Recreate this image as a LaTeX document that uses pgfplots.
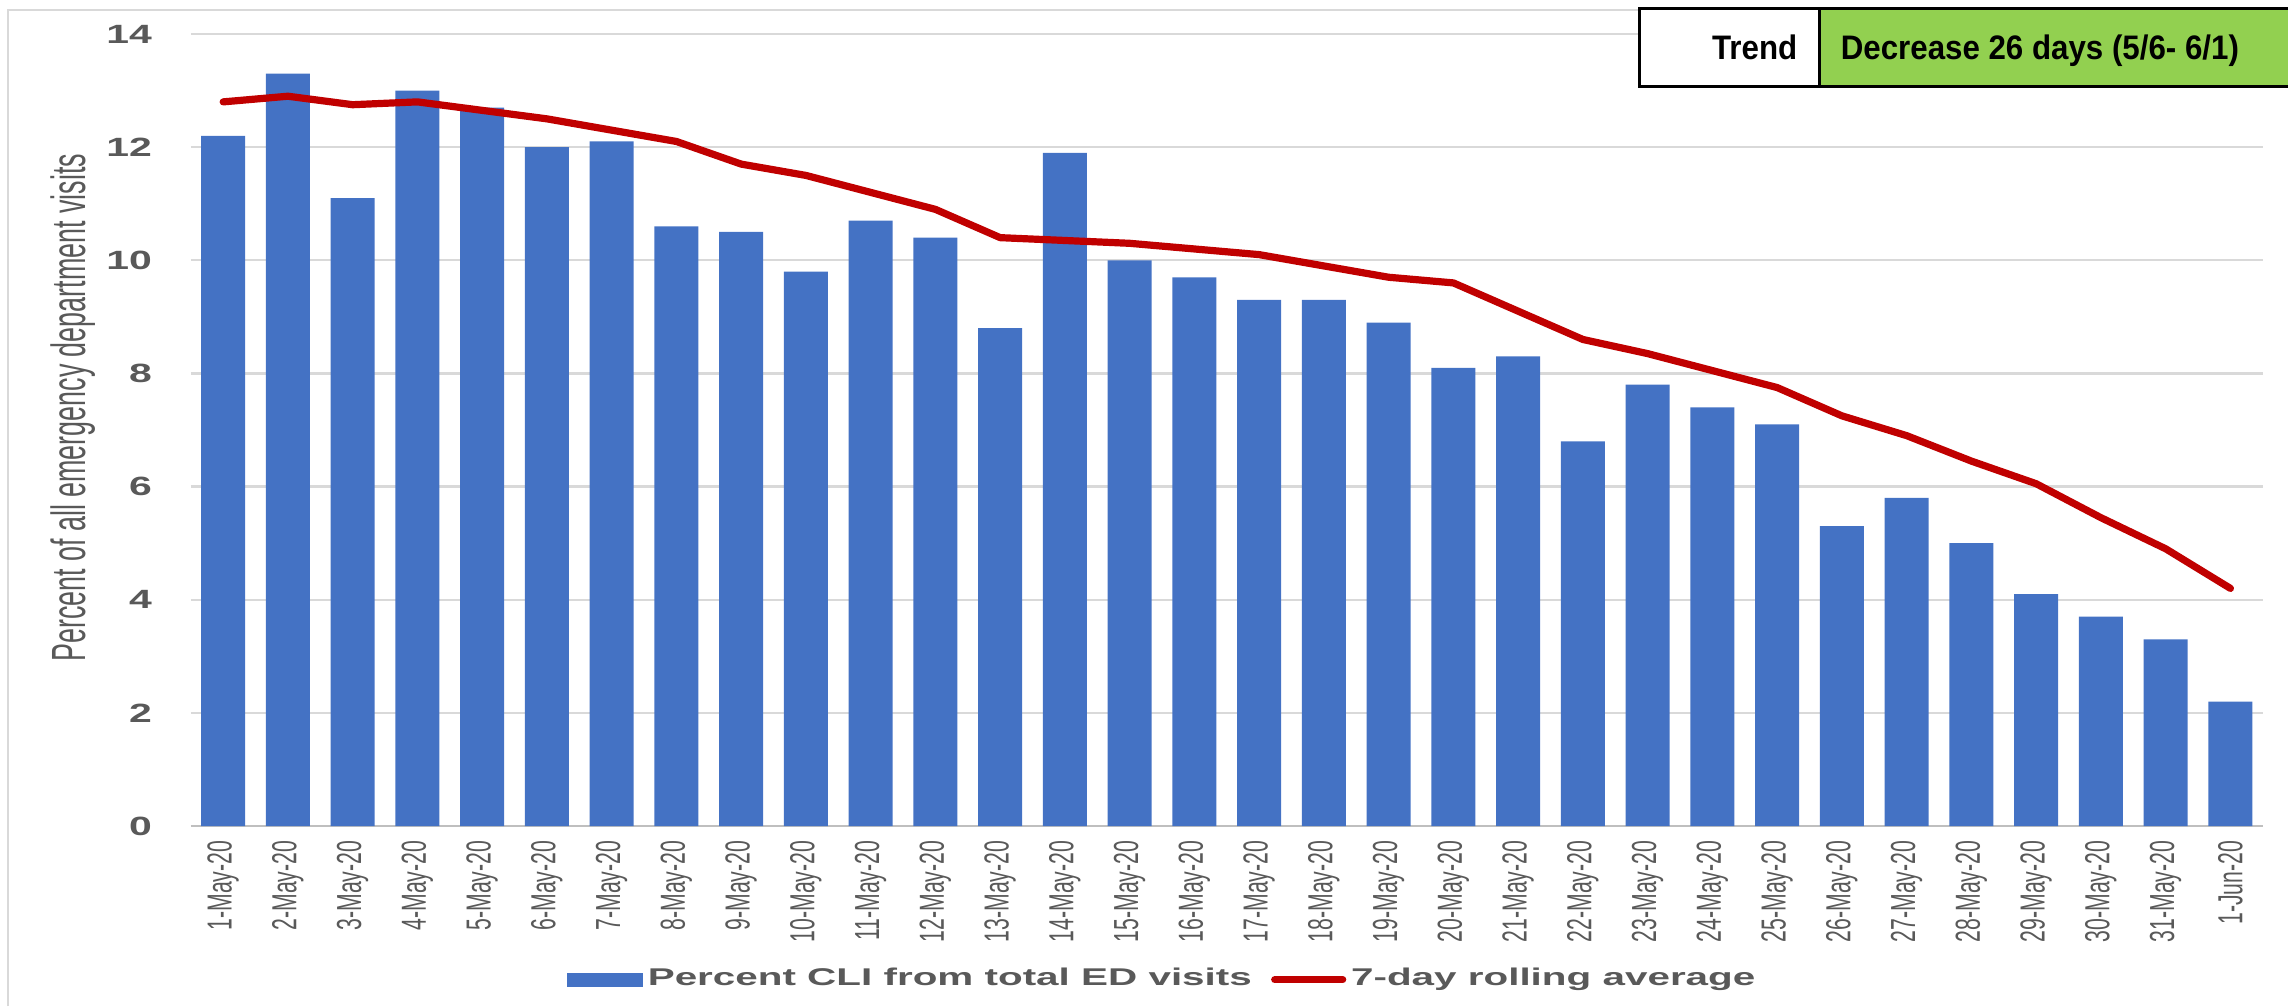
\documentclass[border=0pt]{standalone}
\usepackage{fontspec}
\usepackage{pgfplots}
\pgfplotsset{compat=1.18}
\setmainfont{Liberation Sans}
\newfontfamily\wideb[FakeStretch=1.55]{Liberation Sans}
\newfontfamily\legfont[FakeStretch=1.67]{Liberation Sans}
\newfontfamily\narrowfont[FakeStretch=0.61]{Liberation Sans}
\newfontfamily\ylabfont[FakeStretch=0.56]{Liberation Sans}
\newfontfamily\trendfont[FakeStretch=0.92]{Liberation Sans}
\definecolor{barblue}{HTML}{4472C4}
\definecolor{linered}{HTML}{C00000}
\definecolor{gridgray}{HTML}{D9D9D9}
\definecolor{axisgray}{HTML}{BFBFBF}
\definecolor{labelgray}{HTML}{595959}
\definecolor{trendgreen}{HTML}{92D050}
\pgfplotstableread{
x y
0 12.2
1 13.3
2 11.1
3 13.0
4 12.7
5 12.0
6 12.1
7 10.6
8 10.5
9 9.8
10 10.7
11 10.4
12 8.8
13 11.9
14 10.0
15 9.7
16 9.3
17 9.3
18 8.9
19 8.1
20 8.3
21 6.8
22 7.8
23 7.4
24 7.1
25 5.3
26 5.8
27 5.0
28 4.1
29 3.7
30 3.3
31 2.2
}\bars
\pgfplotstableread{
x y
0 12.8
1 12.9
2 12.75
3 12.8
4 12.65
5 12.5
6 12.3
7 12.1
8 11.7
9 11.5
10 11.2
11 10.9
12 10.4
13 10.35
14 10.3
15 10.2
16 10.1
17 9.9
18 9.7
19 9.6
20 9.1
21 8.6
22 8.35
23 8.05
24 7.75
25 7.25
26 6.9
27 6.45
28 6.05
29 5.45
30 4.9
31 4.2
}\rolling
\begin{document}
\begin{tikzpicture}
\path[use as bounding box] (0,0) rectangle (572pt,251.5pt);
\draw[gridgray, line width=0.5pt] (2pt,0pt) -- (2pt,249pt) -- (572pt,249pt);
\begin{axis}[
  at={(47.7pt,45pt)}, anchor=south west,
  scale only axis, width=518pt, height=198pt,
  xmin=-0.5, xmax=31.5, ymin=0, ymax=14,
  ybar, bar width=11pt, bar shift=0pt,
  axis x line*=bottom, axis y line*=left,
  x axis line style={draw=axisgray, line width=0.6pt, -},
  y axis line style={draw=none},
  tick style={draw=none},
  major tick length=0pt,
  /pgf/number format/assume math mode=true,
  xtick={0,...,31},
  xticklabels={1-May-20,2-May-20,3-May-20,4-May-20,5-May-20,6-May-20,7-May-20,8-May-20,9-May-20,10-May-20,11-May-20,12-May-20,13-May-20,14-May-20,15-May-20,16-May-20,17-May-20,18-May-20,19-May-20,20-May-20,21-May-20,22-May-20,23-May-20,24-May-20,25-May-20,26-May-20,27-May-20,28-May-20,29-May-20,30-May-20,31-May-20,1-Jun-20},
  xticklabel style={rotate=90, anchor=east, inner sep=0pt, font=\narrowfont\fontsize{8.7}{9}\selectfont, text=labelgray},
  xticklabel shift=3.5pt,
  ytick={0,2,...,14},
  yticklabel style={inner sep=0pt, font=\wideb\bfseries\fontsize{6.6}{7}\selectfont, text=labelgray},
  yticklabel shift=9.5pt,
  ymajorgrids, grid style={draw=gridgray, line width=0.6pt},
  ylabel={Percent of all emergency department visits},
  ylabel style={at={(axis description cs:-0.0568,0.528)}, anchor=center, font=\ylabfont\fontsize{12}{13}\selectfont, text=labelgray, inner sep=0pt},
  legend columns=2,
  legend style={at={(axis description cs:0.4695,-0.194)}, anchor=center, draw=none, fill=none,
    font=\legfont\bfseries\fontsize{6.05}{7}\selectfont, text=labelgray,
    nodes={inner sep=1.2pt},
    /tikz/every even column/.append style={column sep=3.6pt}},
]
\addplot[fill=barblue, draw=none,
  legend image code/.code={\fill[barblue] (0pt,-1.75pt) rectangle (19pt,1.75pt);}]
  table[x=x,y=y]{\bars};
\addlegendentry{Percent CLI from total ED visits}
\addplot[sharp plot, draw=linered, line width=1.8pt, line join=round, line cap=round, mark=none,
  legend image code/.code={\draw[linered, line width=1.8pt, line cap=round] (0pt,0pt) -- (17pt,0pt);}]
  table[x=x,y=y]{\rolling};
\addlegendentry{7-day rolling average}
\end{axis}
\filldraw[fill=white, draw=black, line width=0.75pt] (409.75pt,229.75pt) rectangle (454.75pt,249.25pt);
\filldraw[fill=trendgreen, draw=black, line width=0.75pt] (454.75pt,229.75pt) rectangle (574pt,249.25pt);
\node[anchor=base east, inner sep=0pt, font=\trendfont\bfseries\fontsize{8.5}{9}\selectfont] at (449.5pt,236.7pt) {Trend};
\node[anchor=base west, inner sep=0pt, font=\trendfont\bfseries\fontsize{8.5}{9}\selectfont] at (460pt,236.7pt) {Decrease 26 days (5/6- 6/1)};
\end{tikzpicture}
\end{document}
